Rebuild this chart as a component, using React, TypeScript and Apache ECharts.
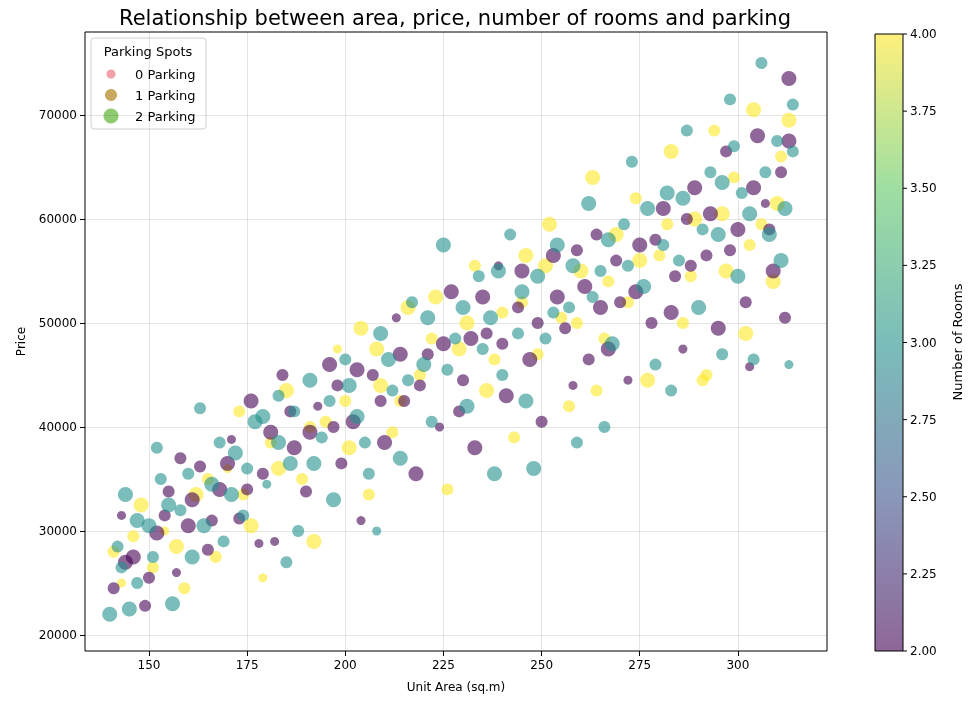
import React, { useEffect, useRef } from "react";
import * as echarts from "echarts";

// [area, price, parking]
const rooms2Points = [[141,24500,1],[143,31500,0],[146,27500,2],[149,22800,1],[152,29800,2],[155,33800,1],[157,26000,0],[160,30500,2],[163,36200,1],[165,28200,1],[168,34000,2],[171,38800,0],[173,31200,1],[176,42500,2],[179,35500,1],[182,29000,0],[184,45000,1],[187,38000,2],[190,33800,1],[193,42000,0],[196,46000,2],[199,36500,1],[202,40500,2],[204,31000,0],[207,45000,1],[210,38500,2],[213,50500,0],[215,42500,1],[218,35500,2],[221,47000,1],[224,40000,0],[227,53000,2],[230,44500,1],[233,38000,2],[236,49000,1],[239,55500,0],[241,43000,2],[244,51500,1],[247,46500,2],[250,40500,1],[253,56500,2],[256,49500,1],[258,44000,0],[261,53500,2],[264,58500,1],[267,47500,2],[270,52000,1],[272,44500,0],[275,57500,2],[278,50000,1],[281,61000,2],[284,54500,1],[286,47500,0],[289,63000,2],[292,56500,1],[295,49500,2],[297,66500,1],[300,59000,2],[302,52000,1],[305,68000,2],[307,61500,0],[309,55000,2],[311,64500,1],[313,73500,2],[312,50500,1],[303,45800,0],[287,60000,1],[262,46500,1],[232,48500,2],[198,44000,1],[178,28800,0],[158,37000,1],
[144,27000,2],[150,25500,1],[154,31500,1],[161,33000,2],[166,31000,1],[170,36500,2],[175,34000,1],[181,39500,2],[186,41500,1],[191,39500,2],[197,40000,1],[203,45500,2],[209,42500,1],[214,47000,2],[219,44000,1],[225,48000,2],[229,41500,1],[235,52500,2],[240,48000,1],[245,55000,2],[249,50000,1],[254,52500,2],[259,57000,1],[265,51500,2],[269,56000,1],[274,53000,2],[279,58000,1],[283,51000,2],[288,55500,1],[293,60500,2],[298,57000,1],[304,63000,2],[308,59000,1],[313,67500,2]];
const rooms3Points = [[140,22000,2],[142,28500,1],[144,33500,2],[147,25000,1],[150,30500,2],[153,35000,1],[156,23000,2],[158,32000,1],[161,27500,2],[163,41800,1],[166,34500,2],[169,29000,1],[172,37500,2],[174,31500,1],[177,40500,2],[180,34500,0],[183,43000,1],[186,36500,2],[188,30000,1],[191,44500,2],[194,39000,1],[197,33000,2],[200,46500,1],[203,41000,2],[206,35500,1],[209,49000,2],[212,43500,1],[214,37000,2],[217,52000,1],[220,46000,2],[222,40500,1],[225,57500,2],[228,48500,1],[231,42000,2],[234,54500,1],[237,50500,2],[240,45000,1],[242,58500,1],[245,53000,2],[248,36000,2],[251,48500,1],[254,57500,2],[257,51500,1],[259,38500,1],[262,61500,2],[265,55000,1],[268,48000,2],[271,59500,1],[273,65500,1],[276,53500,2],[279,46000,1],[282,62500,2],[285,56000,1],[287,68500,1],[290,51500,2],[293,64500,1],[295,58500,2],[298,71500,1],[300,54500,2],[301,62500,1],[304,46500,1],[306,75000,1],[308,58500,2],[310,67500,1],[312,61000,2],[313,46000,0],[314,71000,1],[296,47000,1],[266,40000,1],[246,42500,2],[208,30000,0],[185,27000,1],[152,38000,1],[145,22500,2],[238,35500,2],[283,43500,1],
[143,26500,1],[147,31000,2],[151,27500,1],[155,32500,2],[160,35500,1],[164,30500,2],[168,38500,1],[171,33500,2],[175,36000,1],[179,41000,2],[183,38500,2],[187,41500,1],[192,36500,2],[196,42500,1],[201,44000,2],[205,38500,1],[211,46500,2],[216,44500,1],[221,50500,2],[226,45500,1],[230,51500,2],[235,47500,1],[239,55000,2],[244,49000,1],[249,54500,2],[253,51000,1],[258,55500,2],[263,52500,1],[267,58000,2],[272,55500,1],[277,61000,2],[281,57500,1],[286,62000,2],[291,59000,1],[296,63500,2],[299,67000,1],[303,60500,2],[307,64500,1],[311,56000,2],[314,66500,1]];
const rooms4Points = [[141,28000,1],[143,25000,0],[148,32500,2],[151,26500,1],[154,30000,0],[159,24500,1],[162,33500,2],[167,27500,1],[170,36000,0],[173,41500,1],[176,30500,2],[179,25500,0],[181,38500,1],[185,43500,2],[189,35000,1],[192,29000,2],[195,40500,1],[198,47500,0],[201,38000,2],[204,49500,2],[206,33500,1],[209,44000,2],[212,39500,1],[216,51500,2],[219,45000,1],[223,52500,2],[226,34000,1],[229,47500,2],[233,55500,1],[236,43500,2],[240,51000,1],[243,39000,1],[246,56500,2],[249,47000,1],[252,59500,2],[255,50500,1],[257,42000,1],[260,55000,2],[263,64000,2],[266,48500,1],[269,58500,2],[272,52000,1],[274,62000,1],[277,44500,2],[280,56500,1],[283,66500,2],[286,50000,1],[289,60000,2],[292,45000,1],[294,68500,1],[297,55000,2],[299,64000,1],[302,49000,2],[304,70500,2],[306,59500,1],[309,54000,2],[311,66000,1],[313,69500,2],[291,44500,1],[264,43500,1],
[146,29500,1],[157,28500,2],[165,35000,1],[174,33500,1],[183,36000,2],[191,40000,1],[200,42500,1],[208,47500,2],[214,42500,1],[222,48500,1],[231,50000,2],[238,46500,1],[245,52000,1],[251,55500,2],[259,50000,1],[267,54000,1],[275,56000,2],[282,59500,1],[288,54500,1],[296,60500,2],[303,57500,1],[310,61500,2]];
const xTicks = [150, 175, 200, 225, 250, 275, 300];
const yTicks = [20000, 30000, 40000, 50000, 60000, 70000];
const cbTicks = [2.0, 2.25, 2.5, 2.75, 3.0, 3.25, 3.5, 3.75, 4.0];
const legendLabels = ["0 Parking", "1 Parking", "2 Parking"];

const FONT = "DejaVu Sans";
const sizes = [9, 12, 15];

export default function App() {
  const ref = useRef<HTMLDivElement>(null);
  useEffect(() => {
    const chart = echarts.init(ref.current!, null, { renderer: "svg" });
    const mk = (name: string, data: number[][], color: string) => ({
      type: "scatter", name, data,
      symbolSize: (v: number[]) => sizes[v[2]],
      itemStyle: { color, opacity: 0.6 },
    });
    const cbTop = 34, cbH = 617, cbX = 875, cbW = 28;
    const graphics: any[] = [
      { type: "rect", shape: { x: cbX, y: cbTop, width: cbW, height: cbH },
        style: { fill: new echarts.graphic.LinearGradient(0, 1, 0, 0, [
          { offset: 0, color: "#440154" }, { offset: 0.25, color: "#3b528b" },
          { offset: 0.5, color: "#21918c" }, { offset: 0.75, color: "#5ec962" },
          { offset: 1, color: "#fde725" }]), opacity: 0.6 } },
      { type: "rect", shape: { x: cbX, y: cbTop, width: cbW, height: cbH }, style: { fill: "none", stroke: "#000", lineWidth: 1 } },
      { type: "text", x: 957, y: 342, rotation: Math.PI / 2, style: { text: "Number of Rooms", font: `13px ${FONT}`, fill: "#000", align: "center", verticalAlign: "middle" } },
      { type: "text", x: 455, y: 18, style: { text: "Relationship between area, price, number of rooms and parking", font: `21px ${FONT}`, fill: "#000", align: "center", verticalAlign: "middle" } },
      { type: "rect", shape: { x: 91, y: 38, width: 115, height: 91, r: 3 }, style: { fill: "rgba(255,255,255,0.8)", stroke: "#d0d0d0", lineWidth: 1 } },
      { type: "text", x: 148, y: 51, style: { text: "Parking Spots", font: `13px ${FONT}`, fill: "#000", align: "center", verticalAlign: "middle" } },
    ];
    cbTicks.forEach((t) => {
      const y = cbTop + cbH - ((t - 2) / 2) * cbH;
      graphics.push({ type: "line", shape: { x1: cbX + cbW, y1: y, x2: cbX + cbW + 4, y2: y }, style: { stroke: "#000", lineWidth: 1 } });
      graphics.push({ type: "text", x: cbX + cbW + 7, y, style: { text: t.toFixed(2), font: `12px ${FONT}`, fill: "#000", verticalAlign: "middle" } });
    });
    const legColors = ["#f4a0a8", "#c8a860", "#8fcc6f"];
    legendLabels.forEach((l, i) => {
      const y = 74 + i * 21;
      graphics.push({ type: "circle", shape: { cx: 111, cy: y, r: sizes[i] / 2 }, style: { fill: legColors[i], opacity: 1 } });
      graphics.push({ type: "text", x: 135, y, style: { text: l, font: `13px ${FONT}`, fill: "#000", verticalAlign: "middle" } });
    });
    chart.setOption({
      animation: false,
      textStyle: { fontFamily: FONT },
      grid: { left: 85, top: 32, width: 742, height: 619, show: true, borderColor: "#000", borderWidth: 1 },
      xAxis: {
        type: "value", min: 133.7, max: 322.7,
        name: "Unit Area (sq.m)", nameLocation: "middle", nameGap: 30,
        nameTextStyle: { color: "#000", fontSize: 12 },
        axisLine: { show: false },
        axisTick: { show: true, customValues: xTicks, lineStyle: { color: "#000" } },
        axisLabel: { customValues: xTicks, color: "#000", fontSize: 12 },
        splitLine: { show: true, lineStyle: { color: "rgba(0,0,0,0.1)" } },
      },
      yAxis: {
        type: "value", min: 18460, max: 77980,
        name: "Price", nameLocation: "middle", nameGap: 58,
        nameTextStyle: { color: "#000", fontSize: 12 },
        axisLine: { show: false },
        axisTick: { show: true, customValues: yTicks, lineStyle: { color: "#000" } },
        axisLabel: { customValues: yTicks, color: "#000", fontSize: 12, formatter: (v: number) => String(v) },
        splitLine: { show: true, lineStyle: { color: "rgba(0,0,0,0.1)" } },
      },
      series: [
        mk("r4", rooms4Points, "#fde725"),
        mk("r2", rooms2Points, "#440154"),
        mk("r3", rooms3Points, "#21918c"),
      ],
      graphic: graphics,
    });
    return () => chart.dispose();
  }, []);
  return <div ref={ref} style={{ position: "fixed", left: 0, top: 0, width: 974, height: 703 }} />;
}
